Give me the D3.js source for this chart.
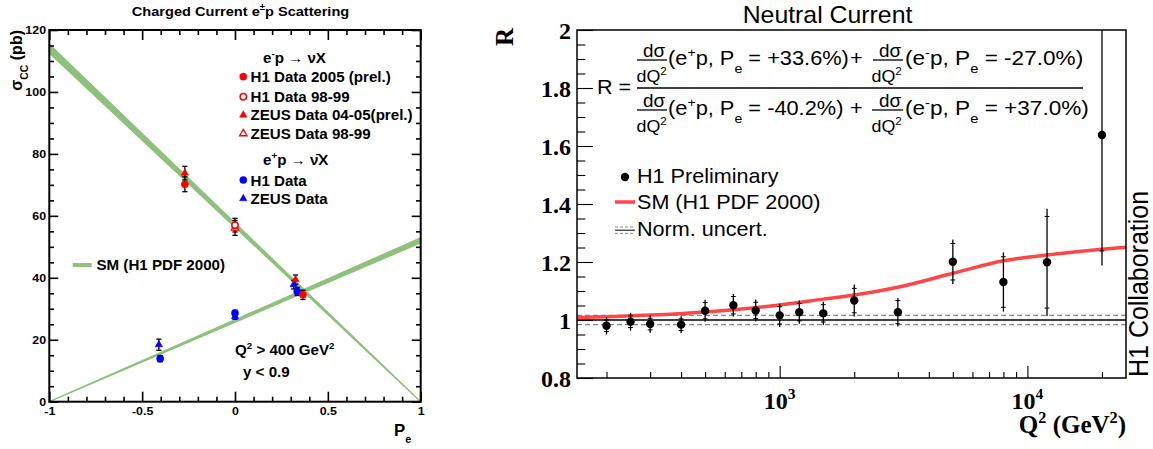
<!DOCTYPE html>
<html><head><meta charset="utf-8">
<script src="https://cdnjs.cloudflare.com/ajax/libs/d3/7.8.5/d3.min.js"></script>
<style>body{margin:0;background:#fff}svg{display:block}</style>
</head><body>
<svg id="c" width="1153" height="449"></svg>
<script>
// ================= LEFT PANEL DATA (Charged Current) =================
const peTicksMajor = [-1, -0.5, 0, 0.5, 1];
const peTickLabels = ["-1", "-0.5", "0", "0.5", "1"];
const sigTicksMajor = [0, 20, 40, 60, 80, 100, 120];
const sigTickLabels = ["0", "20", "40", "60", "80", "100", "120"];

const h1_2005_P = [-0.27, 0.366];
const h1_2005_S = [70.2, 34.5];
const h1_2005_E = [2.4, 1.5];

const h1_9899_P = [0.0];
const h1_9899_S = [57.0];
const h1_9899_E = [2.2];

const zeus_0405_P = [-0.27, 0.326];
const zeus_0405_S = [73.8, 39.4];
const zeus_0405_E = [2.2, 1.5];

const zeus_9899_P = [0.0];
const zeus_9899_S = [56.1];
const zeus_9899_E = [2.4];

const h1_ep_P = [-0.403, 0.0, 0.335];
const h1_ep_S = [13.9, 28.6, 35.6];
const h1_ep_E = [1.0, 0.9, 1.3];

const zeus_ep_P = [-0.41, 0.0, 0.316];
const zeus_ep_S = [18.4, 27.5, 37.8];
const zeus_ep_E = [1.8, 0.9, 1.4];

const smP = [-1, 1];
const smEmLow = [112.6, 0];
const smEmHigh = [115.4, 0];
const smEpLow = [0, 51.3];
const smEpHigh = [0, 52.9];

// ================= RIGHT PANEL DATA (Neutral Current) =================
const q2 = [200, 250, 300, 400, 500, 650, 800, 1000, 1200, 1500, 2000, 3000, 5000, 8000, 12000, 20000];
const R = [0.980, 0.994, 0.986, 0.984, 1.032, 1.051, 1.033, 1.016, 1.027, 1.023, 1.067, 1.027, 1.201, 1.131, 1.199, 1.638];
const Rstat = [0.02, 0.02, 0.02, 0.02, 0.028, 0.03, 0.028, 0.03, 0.03, 0.03, 0.042, 0.04, 0.063, 0.087, 0.158, 0.40];
const Rtot = [0.03, 0.031, 0.03, 0.029, 0.038, 0.039, 0.038, 0.04, 0.04, 0.04, 0.055, 0.049, 0.077, 0.102, 0.185, 0.45];
const smQ2 = [152, 200, 300, 500, 700, 1000, 1500, 2000, 3000, 5000, 8000, 12000, 20000, 25000];
const smR = [1.009, 1.011, 1.017, 1.028, 1.038, 1.052, 1.072, 1.086, 1.113, 1.161, 1.204, 1.224, 1.244, 1.251];
const normUnc = 0.016;
const rTicksMajor = [0.8, 1, 1.2, 1.4, 1.6, 1.8, 2];
const rTickLabels = ["0.8", "1", "1.2", "1.4", "1.6", "1.8", "2"];
const q2TicksMajor = [1000, 10000];
const q2TickExp = ["3", "4"];

// ================= helpers =================
const SANS = "'Liberation Sans', Arial, Helvetica, sans-serif";
const SERIF = "'Liberation Serif', 'Times New Roman', serif";
const svg = d3.select('#c');
svg.append('rect').attr('width', 1153).attr('height', 449).attr('fill', '#fff');

function rich(g, x, y, parts, o) {
  const fs = o.size;
  let tr = `translate(${x},${y})`;
  if (o.sx) tr += ` scale(${o.sx},1)`;
  if (o.rot) tr += ` rotate(${o.rot})`;
  const t = g.append('text').attr('transform', tr)
    .attr('font-family', o.family || SANS)
    .attr('font-size', fs)
    .attr('font-weight', o.bold ? 'bold' : 'normal')
    .attr('text-anchor', o.anchor || 'start')
    .attr('fill', '#000');
  let cur = 0;
  parts.forEach(p => {
    const str = typeof p === 'string' ? p : p[0];
    const kind = typeof p === 'string' ? 'n' : (p[1] || 'n');
    const target = kind === 'sup' ? -0.42 * fs : kind === 'sub' ? 0.42 * fs : 0;
    const ts = t.append('tspan').text(str).attr('dy', target - cur);
    if (kind !== 'n') ts.attr('font-size', fs * 0.65);
    cur = target;
  });
  return t;
}

// ================= LEFT PANEL =================
const gL = svg.append('g');
const xL = d3.scaleLinear().domain([-1, 1]).range([49.3, 420.7]);
const yL = d3.scaleLinear().domain([0, 120]).range([401.7, 30]);
const GREEN = '#8fc07c';

const band = d3.area().x(d => xL(d.p)).y0(d => yL(d.lo)).y1(d => yL(d.hi));
const emBand = smP.map((p, i) => ({ p, lo: smEmLow[i], hi: smEmHigh[i] }));
const epBand = smP.map((p, i) => ({ p, lo: smEpLow[i], hi: smEpHigh[i] }));
[emBand, epBand].forEach(b => {
  gL.append('path').attr('d', band(b)).attr('fill', GREEN)
    .attr('stroke', GREEN).attr('stroke-width', 1.3).attr('stroke-linejoin', 'round');
});

// axes / ticks
const xMinorL = d3.range(-10, 11).map(v => v / 10).filter(v => Math.abs(v * 2 - Math.round(v * 2)) > 1e-6);
const yMinorL = d3.range(0, 121, 5).filter(v => v % 20 !== 0);
function styleTicks(sel, w) { sel.select('.domain').remove(); sel.selectAll('line').attr('stroke', '#000').attr('stroke-width', w); }

const axL = gL.append('g').attr('transform', `translate(${xL.range()[0]},0)`)
  .call(d3.axisLeft(yL).tickValues(sigTicksMajor).tickFormat((d, i) => sigTickLabels[i]).tickSizeInner(-9).tickSizeOuter(0).tickPadding(3));
styleTicks(axL, 1.6);
gL.append('g').attr('transform', `translate(${xL.range()[0]},0)`)
  .call(d3.axisLeft(yL).tickValues(yMinorL).tickFormat('').tickSizeInner(-4.7).tickSizeOuter(0)).call(s => styleTicks(s, 1.6));
gL.append('g').attr('transform', `translate(${xL.range()[1]},0)`)
  .call(d3.axisRight(yL).tickValues(sigTicksMajor).tickFormat('').tickSizeInner(-9).tickSizeOuter(0)).call(s => styleTicks(s, 1.6));
gL.append('g').attr('transform', `translate(${xL.range()[1]},0)`)
  .call(d3.axisRight(yL).tickValues(yMinorL).tickFormat('').tickSizeInner(-4.7).tickSizeOuter(0)).call(s => styleTicks(s, 1.6));
const axLB = gL.append('g').attr('transform', `translate(0,${yL.range()[0]})`)
  .call(d3.axisBottom(xL).tickValues(peTicksMajor).tickFormat((d, i) => peTickLabels[i]).tickSizeInner(-10).tickSizeOuter(0).tickPadding(5));
styleTicks(axLB, 1.6);
gL.append('g').attr('transform', `translate(0,${yL.range()[0]})`)
  .call(d3.axisBottom(xL).tickValues(xMinorL).tickFormat('').tickSizeInner(-5).tickSizeOuter(0)).call(s => styleTicks(s, 1.6));
gL.append('g').attr('transform', `translate(0,${yL.range()[1]})`)
  .call(d3.axisTop(xL).tickValues(peTicksMajor).tickFormat('').tickSizeInner(-10).tickSizeOuter(0)).call(s => styleTicks(s, 1.6));
gL.append('g').attr('transform', `translate(0,${yL.range()[1]})`)
  .call(d3.axisTop(xL).tickValues(xMinorL).tickFormat('').tickSizeInner(-5).tickSizeOuter(0)).call(s => styleTicks(s, 1.6));
[axL, axLB].forEach(a => a.selectAll('text').attr('font-family', SANS).attr('font-weight', 'bold')
  .attr('font-size', 11.5).attr('fill', '#000'));
axL.selectAll('text').attr('transform', 'scale(1.08,1)');
axLB.selectAll('text').attr('transform', 'scale(1.08,1)');

gL.append('rect').attr('x', xL.range()[0]).attr('y', yL.range()[1])
  .attr('width', xL.range()[1] - xL.range()[0]).attr('height', yL.range()[0] - yL.range()[1])
  .attr('fill', 'none').attr('stroke', '#000').attr('stroke-width', 2);

// error bars + markers
function errBars(P, S, E) {
  P.forEach((p, i) => {
    const x = xL(p), y1 = yL(S[i] + E[i]), y2 = yL(S[i] - E[i]);
    gL.append('line').attr('x1', x).attr('x2', x).attr('y1', y1).attr('y2', y2).attr('stroke', '#000').attr('stroke-width', 1.3);
    [y1, y2].forEach(yy => gL.append('line').attr('x1', x - 2.6).attr('x2', x + 2.6).attr('y1', yy).attr('y2', yy).attr('stroke', '#000').attr('stroke-width', 1.3));
  });
}
const tri = d3.symbol().type(d3.symbolTriangle).size(24);
function circ(x, y, col, open) {
  gL.append('circle').attr('cx', x).attr('cy', y).attr('r', open ? 3.2 : 3.6)
    .attr('fill', open ? '#fff' : col).attr('stroke', col).attr('stroke-width', open ? 1.5 : 0.5);
}
function triM(x, y, col, open) {
  gL.append('path').attr('d', tri()).attr('transform', `translate(${x},${y})`)
    .attr('fill', open ? '#fff' : col).attr('stroke', col).attr('stroke-width', open ? 1.3 : 0.5);
}
[[h1_9899_P, h1_9899_S, h1_9899_E], [zeus_9899_P, zeus_9899_S, zeus_9899_E], [h1_2005_P, h1_2005_S, h1_2005_E],
 [zeus_0405_P, zeus_0405_S, zeus_0405_E], [h1_ep_P, h1_ep_S, h1_ep_E], [zeus_ep_P, zeus_ep_S, zeus_ep_E]]
  .forEach(a => errBars(...a));
h1_ep_P.forEach((p, i) => circ(xL(p), yL(h1_ep_S[i]), '#0000ff', false));
zeus_ep_P.forEach((p, i) => triM(xL(p), yL(zeus_ep_S[i]), '#0000ff', false));
zeus_9899_P.forEach((p, i) => triM(xL(p), yL(zeus_9899_S[i]), '#ff0000', true));
h1_9899_P.forEach((p, i) => circ(xL(p), yL(h1_9899_S[i]), '#ff0000', true));
h1_2005_P.forEach((p, i) => circ(xL(p), yL(h1_2005_S[i]), '#ff0000', false));
zeus_0405_P.forEach((p, i) => triM(xL(p), yL(zeus_0405_S[i]), '#ff0000', false));

// left texts
const LB = { size: 14, bold: true, sx: 1.08 };
rich(svg, 240.5, 16, ['Charged Current e', ['±', 'sup'], 'p Scattering'], { ...LB, anchor: 'middle', size: 13.5 });
rich(gL, 263, 63, ['e', ['-', 'sup'], 'p \u2192 \u03BDX'], LB);
rich(gL, 263, 165, ['e', ['+', 'sup'], 'p \u2192 \u03BD\u0304X'], LB);
const legL = [
  ['H1 Data 2005 (prel.)', 81.7, 76.7, 'c', '#ff0000', false],
  ['H1 Data 98-99', 101.7, 96.7, 'c', '#ff0000', true],
  ['ZEUS Data 04-05(prel.)', 119.6, 115, 't', '#ff0000', false],
  ['ZEUS Data 98-99', 138.5, 133.6, 't', '#ff0000', true],
  ['H1 Data', 186, 180, 'c', '#0000ff', false],
  ['ZEUS Data', 204, 198.6, 't', '#0000ff', false]
];
legL.forEach(([t, yb, ym, m, col, open]) => {
  if (m === 'c') circ(243.3, ym, col, open); else triM(243.3, ym, col, open);
  rich(gL, 250.5, yb, [t], LB);
});
gL.append('line').attr('x1', 72.7).attr('x2', 91.7).attr('y1', 265).attr('y2', 265).attr('stroke', GREEN).attr('stroke-width', 4);
rich(gL, 96.5, 270, ['SM (H1 PDF 2000)'], LB);
rich(gL, 235, 355, ['Q', ['2', 'sup'], ' > 400 GeV', ['2', 'sup']], LB);
rich(gL, 243, 377, ['y < 0.9'], LB);
rich(gL, 394, 436, ['P', ['e', 'sub']], { size: 16, bold: true, sx: 1.05 });
rich(gL, 21.5, 30, ['\u03C3', ['CC', 'sub'], ' (pb)'], { size: 16, bold: true, rot: -90, anchor: 'end' });

// ================= RIGHT PANEL =================
const gR = svg.append('g');
const xR = d3.scaleLog().domain([152, 25000]).range([577, 1126]);
const yR = d3.scaleLinear().domain([0.8, 2]).range([378, 30]);
svg.append('defs').append('clipPath').attr('id', 'clipR').append('rect')
  .attr('x', 577).attr('y', 30).attr('width', 549).attr('height', 348);
const inner = gR.append('g').attr('clip-path', 'url(#clipR)');

// norm uncertainty + unity line
[1 + normUnc, 1 - normUnc].forEach(v => inner.append('line').attr('x1', 577).attr('x2', 1126)
  .attr('y1', yR(v)).attr('y2', yR(v)).attr('stroke', '#888').attr('stroke-width', 1.1).attr('stroke-dasharray', '5,3'));
inner.append('line').attr('x1', 577).attr('x2', 1126).attr('y1', yR(1)).attr('y2', yR(1)).attr('stroke', '#000').attr('stroke-width', 1.3);

// SM curve
const smLine = d3.line().x(d => xR(d.q)).y(d => yR(d.r)).curve(d3.curveMonotoneX);
inner.append('path').attr('d', smLine(smQ2.map((q, i) => ({ q, r: smR[i] }))))
  .attr('fill', 'none').attr('stroke', '#ff4646').attr('stroke-width', 3.5);

// data
q2.forEach((q, i) => {
  const x = xR(q);
  inner.append('line').attr('x1', x).attr('x2', x).attr('y1', yR(R[i] + Rtot[i])).attr('y2', yR(R[i] - Rtot[i]))
    .attr('stroke', '#000').attr('stroke-width', 1.3);
  [R[i] + Rstat[i], R[i] - Rstat[i]].forEach(v => inner.append('line').attr('x1', x - 2.4).attr('x2', x + 2.4)
    .attr('y1', yR(v)).attr('y2', yR(v)).attr('stroke', '#000').attr('stroke-width', 1));
  inner.append('circle').attr('cx', x).attr('cy', yR(R[i])).attr('r', 4.2).attr('fill', '#000');
});

// axes
const rMinor = d3.range(16, 41).map(v => v * 0.05).filter(v => Math.abs(v * 5 - Math.round(v * 5)) > 1e-6);
const qMinor = [200, 300, 400, 500, 600, 700, 800, 900, 2000, 3000, 4000, 5000, 6000, 7000, 8000, 9000, 20000];
const axR = gR.append('g').attr('transform', 'translate(577,0)')
  .call(d3.axisLeft(yR).tickValues(rTicksMajor).tickFormat((d, i) => rTickLabels[i]).tickSizeInner(-16).tickSizeOuter(0).tickPadding(6));
styleTicks(axR, 1.1);
axR.selectAll('text').attr('font-family', SERIF).attr('font-weight', 'bold').attr('font-size', 24).attr('fill', '#000').attr('dy', '0.34em');
gR.append('g').attr('transform', 'translate(577,0)')
  .call(d3.axisLeft(yR).tickValues(rMinor).tickFormat('').tickSizeInner(-8.3).tickSizeOuter(0)).call(s => styleTicks(s, 1.1));
const axRB = gR.append('g').attr('transform', 'translate(0,378)')
  .call(d3.axisBottom(xR).tickValues(q2TicksMajor).tickFormat('').tickSizeInner(-12).tickSizeOuter(0));
styleTicks(axRB, 1.1);
gR.append('g').attr('transform', 'translate(0,378)')
  .call(d3.axisBottom(xR).tickValues(qMinor).tickFormat('').tickSizeInner(-6).tickSizeOuter(0)).call(s => styleTicks(s, 1.1));
q2TicksMajor.forEach((v, i) => rich(gR, xR(v), 409, ['10', [q2TickExp[i], 'sup']], { size: 24, bold: true, family: SERIF, anchor: 'middle' }));

gR.append('rect').attr('x', 577).attr('y', 30).attr('width', 549).attr('height', 348)
  .attr('fill', 'none').attr('stroke', '#000').attr('stroke-width', 1.5);

// right texts
const RS = { size: 20, sx: 1.08 };
const FS1 = { size: 20, sx: 1.09 };
const FS2 = { size: 20, sx: 1.13 };
rich(svg, 827.5, 23, ['Neutral Current'], { size: 23, sx: 1.08, anchor: 'middle' });
rich(gR, 513, 28, ['R'], { size: 25, bold: true, family: SERIF, rot: -90, anchor: 'end' });
rich(gR, 1126, 433, ['Q', ['2', 'sup'], ' (GeV', ['2', 'sup'], ')'], { size: 25, bold: true, family: SERIF, anchor: 'end' });
rich(gR, 1147.5, 377, ['H1 Collaboration'], { size: 25, rot: -90, sx: 1.1 });

// formula
rich(gR, 597, 94, ['R ='], RS);
gR.append('line').attr('x1', 637).attr('x2', 1083).attr('y1', 88).attr('y2', 88).attr('stroke', '#000').attr('stroke-width', 1.6);
function smallFrac(x0, x1, xs, xq, yTop) {
  rich(gR, xs, yTop, ['d\u03C3'], { size: 17.5, sx: 1.08 });
  gR.append('line').attr('x1', x0).attr('x2', x1).attr('y1', yTop + 3).attr('y2', yTop + 3).attr('stroke', '#000').attr('stroke-width', 1.3);
  rich(gR, xq, yTop + 25, ['dQ', ['2', 'sup']], { size: 17, sx: 1.05 });
}
smallFrac(637, 667, 643, 636.5, 57);
smallFrac(873, 903, 879, 871.5, 57);
smallFrac(637, 667, 643, 636.5, 107);
smallFrac(872, 903, 879, 871.5, 107);
rich(gR, 668, 65, ['(e', ['+', 'sup'], 'p, P', ['e', 'sub'], ' = +33.6%)'], FS1);
rich(gR, 850, 65, ['+'], FS1);
rich(gR, 905, 65, ['(e', ['-', 'sup'], 'p, P', ['e', 'sub'], ' = -27.0%)'], FS2);
rich(gR, 668, 115, ['(e', ['+', 'sup'], 'p, P', ['e', 'sub'], ' = -40.2%)'], FS1);
rich(gR, 850, 115, ['+'], FS1);
rich(gR, 905, 115, ['(e', ['-', 'sup'], 'p, P', ['e', 'sub'], ' = +37.0%)'], FS2);

// legend
gR.append('circle').attr('cx', 625).attr('cy', 177).attr('r', 4.2).attr('fill', '#000');
rich(gR, 637, 183, ['H1 Preliminary'], RS);
gR.append('line').attr('x1', 615).attr('x2', 635).attr('y1', 202).attr('y2', 202).attr('stroke', '#ff4646').attr('stroke-width', 3.5);
rich(gR, 637, 209, ['SM (H1 PDF 2000)'], RS);
[227, 233.4].forEach(yy => gR.append('line').attr('x1', 615).attr('x2', 635).attr('y1', yy).attr('y2', yy)
  .attr('stroke', '#888').attr('stroke-width', 1).attr('stroke-dasharray', '3,2'));
gR.append('line').attr('x1', 615).attr('x2', 635).attr('y1', 230.2).attr('y2', 230.2).attr('stroke', '#000').attr('stroke-width', 1);
rich(gR, 637, 236, ['Norm. uncert.'], RS);
</script>
</body></html>
